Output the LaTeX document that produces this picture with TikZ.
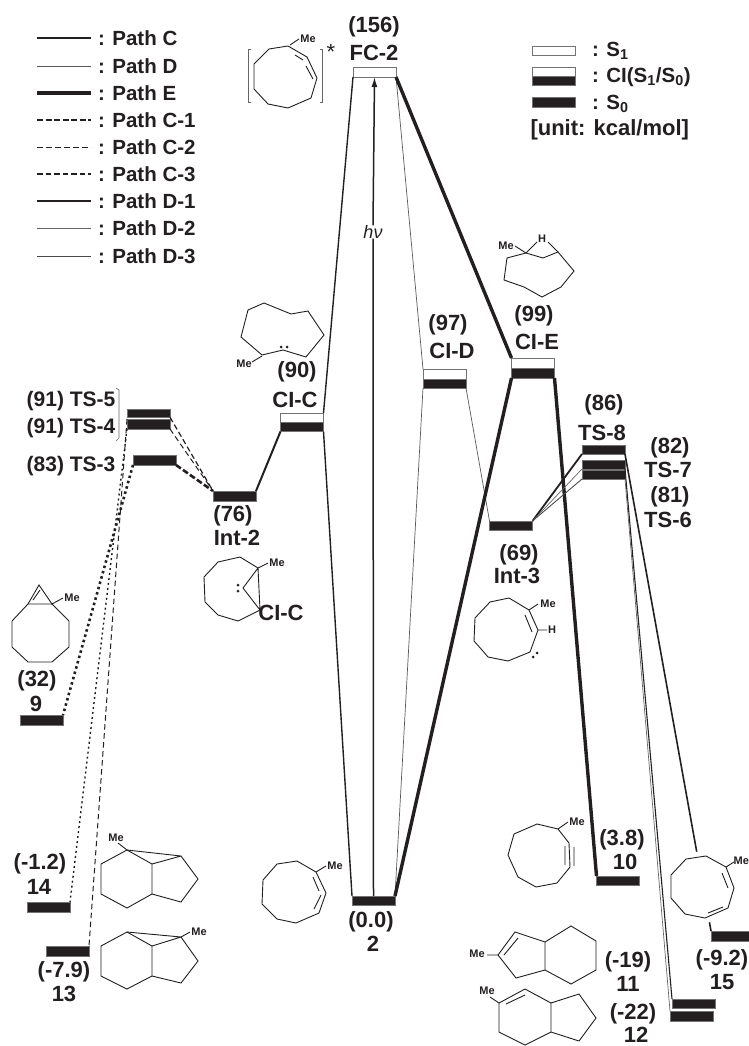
\documentclass[tikz,border=0pt]{standalone}
\usepackage{fontspec}
\setmainfont{Liberation Sans}
\usetikzlibrary{arrows.meta,positioning,calc}
\definecolor{ink}{HTML}{231F20}

\begin{document}
\begin{tikzpicture}[x=1pt,y=-1pt,
  every node/.style={inner sep=0pt,outer sep=0pt,text=ink},
  lab/.style={font=\fontsize{22}{24}\selectfont\bfseries},
  tslab/.style={font=\fontsize{21}{24}\selectfont\bfseries},
  leg/.style={font=\fontsize{20.5}{24}\selectfont\bfseries,anchor=west},
  me/.style={font=\fontsize{11}{12}\selectfont\bfseries},
  mol/.style={draw=ink,line width=0.9pt,line join=miter},
  s1bar/.style={draw=black!55,fill=white,line width=0.7pt,minimum width=43pt,minimum height=#1},
  s0bar/.style={draw=black!55,fill=ink,line width=0.3pt,minimum width=43pt,minimum height=#1},
  pathC/.style={draw=ink,line width=1.4pt},
  pathD/.style={draw=black!65,line width=0.7pt},
  pathE/.style={draw=ink,line width=3.4pt},
  pathCa/.style={draw=ink,line width=2.6pt,dash pattern=on 6pt off 2.5pt},
  pathCb/.style={draw=ink,line width=1pt,dash pattern=on 5.5pt off 3.5pt},
  pathCc/.style={draw=ink,line width=1.2pt,dash pattern=on 5.5pt off 3pt},
  pathDa/.style={draw=ink,line width=1.6pt},
  pathDb/.style={draw=black!60,line width=0.7pt},
  pathDc/.style={draw=black!70,line width=0.9pt},
  dotA/.style={draw=ink,line width=2.6pt,dash pattern=on 2.5pt off 3pt},
  dotB/.style={draw=ink,line width=1.4pt,dash pattern=on 2pt off 3pt},
  ar/.style={-{Latex[length=10pt,width=6pt]},draw=ink,line width=1.5pt}]
\clip (0,0) rectangle (749,1046);
\foreach \y/\st/\t in {38/pathC/C,66/pathD/D,93/pathE/E,120/pathCa/C-1,147/pathCb/C-2,174/pathCc/C-3,201/pathDa/D-1,228/pathDb/D-2,256/pathDc/D-3}{
  \coordinate (ls\y) at (37,\y);
  \coordinate (le\y) at (91,\y);
  \draw[\st] (ls\y) -- (le\y);
  \node[leg] (lt\y) at (98,\y) {: Path \t};
}
\node[s1bar=9pt] (k1) at (554,50.5) {};
\node[s1bar=9pt] (k2) at (554,71.5) {};
\node[s0bar=9pt] (k3) at (554,80.5) {};
\node[s0bar=10pt] (k4) at (554,102) {};
\node[leg] (kt1) at (592,51) {: S\textsubscript{1}};
\node[leg] (kt2) at (592,77) {: CI(S\textsubscript{1}/S\textsubscript{0})};
\node[leg] (kt3) at (592,104) {: S\textsubscript{0}};
\node[leg,font=\fontsize{22}{24}\selectfont\bfseries] (kt4) at (530.5,130) {[unit: kcal/mol]};

\node[s1bar=10pt] (fc) at (374.5,72) {};
\node[s1bar=10pt] (cicu) at (302,418) {};
\node[s0bar=9pt] (cicl) at (302,427) {};
\node[s0bar=8.5pt] (ts5) at (148.5,413) {};
\node[s0bar=10pt] (ts4) at (148.5,424) {};
\node[s0bar=10pt] (ts3) at (154.5,460) {};
\node[s0bar=10pt] (int2) at (234.5,496) {};
\node[s1bar=10pt] (cidu) at (444.5,374) {};
\node[s0bar=9pt] (cidl) at (444.5,383.5) {};
\node[s1bar=10pt] (cieu) at (533,363) {};
\node[s0bar=10pt] (ciel) at (533,373) {};
\node[s0bar=9pt] (ts8) at (603.5,449.5) {};
\node[s0bar=9pt] (ts7) at (603.5,464.5) {};
\node[s0bar=9pt] (ts6) at (603.5,474.5) {};
\node[s0bar=9pt] (int3) at (511,525.5) {};
\node[s0bar=10pt] (n9) at (41.5,720) {};
\node[s0bar=10pt] (n14) at (48.5,907) {};
\node[s0bar=10pt] (n13) at (67.5,951) {};
\node[s0bar=9pt] (n2) at (373.5,900.5) {};
\node[s0bar=9pt] (n10) at (618,880.5) {};
\node[s0bar=10pt] (n15) at (732.5,936) {};
\node[s0bar=9pt] (n11) at (693.5,1003.5) {};
\node[s0bar=10pt] (n12) at (691.5,1016) {};

\node[font=\fontsize{18}{20}\selectfont\itshape] (hv) at (373,232) {hν};
\draw[ar] (hv.north) -- (fc.south);
\draw[ar,-] (n2.north) -- (hv.south);

\draw[pathC] (fc.south west) -- (cicu.north east);
\draw[pathC] (cicl.south east) -- (n2.north west);
\draw[pathC,line width=2pt] (int2.north east) -- (cicl.south west);
\draw[pathD] (fc.south east) -- (cidu.north west);
\draw[pathD] (cidl.south west) -- (n2.north east);
\draw[pathD] (cidl.south east) -- (int3.north west);
\draw[pathE] (fc.south east) -- (cieu.north west);
\draw[pathE] (ciel.south west) -- (n2.north east);
\draw[pathE] (ciel.south east) -- (n10.north west);
\draw[pathCa] (ts3.south east) -- (int2.north west);
\draw[pathCb] (ts4.south east) -- (int2.north west);
\draw[pathCc] (ts5.south east) -- (int2.north west);
\draw[dotA] (ts3.south west) -- (n9.north east);
\draw[dotB] (ts4.south west) -- (n14.north east);
\draw[pathCb] (ts4.north west) -- (n13.north east);
\draw[pathE,line width=1.8pt] (int3.north east) -- (ts8.south west);
\draw[pathDb] (int3.north east) -- (ts7.south west);
\draw[pathDc] (int3.north east) -- (ts6.south west);
\draw[pathDa] (ts8.south east) -- (n15.north west);
\draw[pathDa,line width=1.1pt] (ts7.south east) -- (n11.north west);
\draw[pathDb] (ts6.south east) -- (n12.north west);

\node[lab] (t156) at (374,27) {(156)};
\node[lab] (tfc) at (374,53) {FC-2};
\node[lab] (t90) at (297,372) {(90)};
\node[lab] (tcic) at (295,400) {CI-C};
\node[tslab] (tts5) at (71,401) {(91) TS-5};
\node[tslab] (tts4) at (71,428) {(91) TS-4};
\node[tslab] (tts3) at (71,466) {(83) TS-3};
\node[lab] (t76) at (233,516) {(76)};
\node[lab] (tint2) at (237,538) {Int-2};
\node[lab] (tcicb) at (281,613) {CI-C};
\node[lab] (t97) at (448,325) {(97)};
\node[lab] (tcid) at (452,351) {CI-D};
\node[lab] (t99) at (534,316) {(99)};
\node[lab] (tcie) at (537,342) {CI-E};
\node[lab] (t86) at (604,405) {(86)};
\node[lab] (tts8) at (602,433) {TS-8};
\node[lab] (t82) at (670,448) {(82)};
\node[lab] (tts7) at (668,470) {TS-7};
\node[lab] (t81) at (670,497) {(81)};
\node[lab] (tts6) at (668,520) {TS-6};
\node[lab] (t69) at (519,555) {(69)};
\node[lab] (tint3) at (517,576) {Int-3};
\node[lab] (t32) at (37,681) {(32)};
\node[lab] (t9) at (36,704) {9};
\node[lab] (t12a) at (40,864) {(-1.2)};
\node[lab] (t14) at (39,887) {14};
\node[lab] (t79) at (64,972) {(-7.9)};
\node[lab] (t13) at (64,994) {13};
\node[lab] (t00) at (371,922) {(0.0)};
\node[lab] (t2) at (373,944) {2};
\node[lab] (t38) at (622,840) {(3.8)};
\node[lab] (t10) at (625,862) {10};
\node[lab] (t19) at (628,962) {(-19)};
\node[lab] (t11) at (628,984) {11};
\node[lab] (t22) at (633,1014) {(-22)};
\node[lab] (t12) at (636,1035) {12};
\node[lab] (t92) at (722,960) {(-9.2)};
\node[lab] (t15) at (722,982) {15};

\draw[mol] (288,46) -- (307,57) -- (317,78) -- (311,98) -- (288,108) -- (268,104) -- (254,89) -- (254,64) -- (269,49) -- cycle;
\draw[mol] (295,55) -- (303,60) (306,66) -- (313,79) (290,45) -- (299,39);
\draw[mol,black!60,line width=0.6pt] (251,49) -- (248,49) -- (248,102) -- (251,102) (320,49) -- (322,49) -- (322,102) -- (320,102);
\node[me] (mefc) at (308,39) {Me};
\node[font=\fontsize{22}{24}\selectfont] (star) at (331,52) {*};

\draw[mol] (526,253) -- (543,258) -- (558,252) -- (574,271) -- (561,287) -- (542,297) -- (524,287) -- (504,280) -- (507,258) -- cycle;
\draw[mol] (515,246) -- (526,253) -- (537,242) (548,242) -- (558,252);
\node[me] (mecie) at (506,246) {Me};
\node[me] (hcie) at (542,239) {H};

\draw[mol] (264,303) -- (291,314) -- (308,311) -- (324,335) -- (306,357) -- (283,350) -- (262,355) -- (241,337) -- (248,310) -- cycle;
\draw[mol] (252,362) -- (262,356);
\node[me] (mecic) at (244,364) {Me};
\fill[ink] (281,347) circle (1.5) (287,347) circle (1.5);

\draw[mol] (258,568) -- (240,557) -- (218,562) -- (204,577) -- (205,602) -- (218,615) -- (238,621) -- (260,610) -- (258,568) -- (243,588) -- (260,610);
\draw[mol] (258,568) -- (268,563);
\node[me] (meint2) at (277,563) {Me};
\fill[ink] (238,585) circle (1.5) (238,591) circle (1.5);

\draw[mol] (28,604) -- (52,604) -- (69,621) -- (69,647) -- (52,662) -- (28,662) -- (12,647) -- (12,621) -- cycle;
\draw[mol] (28,604) -- (39,585) -- (52,604) -- (63,598) (33,600) -- (40,590);
\node[me] (me9) at (72,598) {Me};

\draw[mol] (127,850) -- (152,864) -- (152,894) -- (127,908) -- (101,894) -- (101,864) -- cycle;
\draw[mol] (152,864) -- (181,856) -- (198,879) -- (181,902) -- (152,894) (127,850) -- (181,856) (118,843) -- (127,850);
\node[me] (me14) at (116,838) {Me};

\draw[mol] (127,932) -- (152,946) -- (152,976) -- (127,989) -- (101,976) -- (101,946) -- cycle;
\draw[mol] (152,946) -- (181,937) -- (198,961) -- (181,983) -- (152,976) (127,932) -- (181,937) -- (190,932);
\node[me] (me13) at (199,932) {Me};

\draw[mol] (316,872) -- (297,861) -- (277,864) -- (263,880) -- (262,904) -- (277,919) -- (296,923) -- (319,913) -- (326,893) -- cycle;
\draw[mol] (316,872) -- (326,866) (313,877) -- (319,891) (321,895) -- (314,909);
\node[me] (me2) at (335,866) {Me};

\draw[mol] (529,610) -- (509,598) -- (490,602) -- (475,618) -- (474,641) -- (482,650) -- (488,657) -- (508,661) -- (530,652) -- (538,630) -- cycle;
\draw[mol] (525,615) -- (532,632) (538,630) -- (547,630) (529,610) -- (538,604);
\node[me] (meint3) at (548,604) {Me};
\node[me] (hint3) at (552,630) {H};
\fill[ink] (537,653) circle (1.5) (533,657) circle (1.5);

\draw[mol] (558,829) -- (537,824) -- (514,834) -- (508,855) -- (518,877) -- (536,887) -- (557,883) -- (570,867) -- (569,843) -- cycle;
\draw[mol] (558,829) -- (568,822) (565,846) -- (565,865) (574,847) -- (574,866);
\node[me] (me10) at (577,822) {Me};

\draw[mol,fill=white,preaction={draw=white,line width=11pt}] (726,867) -- (706,856) -- (686,859) -- (671,875) -- (671,898) -- (685,914) -- (705,918) -- (728,908) -- (734,888) -- cycle;
\draw[mol] (726,867) -- (734,862) (722,873) -- (728,888) (723,907) -- (708,913);
\node[me,anchor=east] (me15) at (749,861) {Me};

\draw[mol] (545,942) -- (515,932) -- (498,955) -- (516,978) -- (545,970) -- (571,984) -- (596,970) -- (596,941) -- (571,926) -- cycle;
\draw[mol] (545,942) -- (545,970) (518,938) -- (504,955) (487,955) -- (498,955);
\node[me] (me11) at (477,954) {Me};

\draw[mol] (499,1003) -- (525,989) -- (551,1003) -- (551,1032) -- (525,1045) -- (499,1032) -- cycle;
\draw[mol] (551,1003) -- (579,994) -- (596,1018) -- (579,1041) -- (551,1032) (506,1004) -- (525,995) (490,997) -- (499,1003);
\node[me] (me12) at (487,991) {Me};

\draw[mol,black!60,line width=0.6pt] (116,388) -- (119,390) -- (119,438) -- (116,441);
\end{tikzpicture}
\end{document}
